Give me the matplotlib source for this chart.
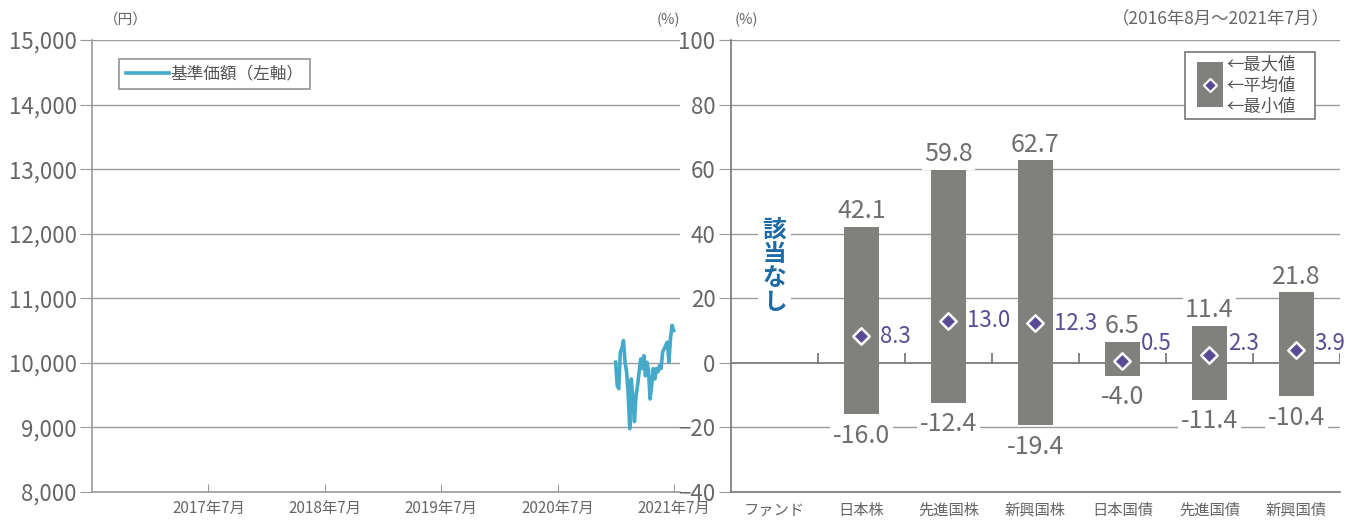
import numpy as np
import pandas as pd
import matplotlib
matplotlib.use('Agg')
import matplotlib.pyplot as plt
from matplotlib.patches import Rectangle

plt.rcParams['font.family'] = ['Noto Sans CJK JP', 'DejaVu Sans']

# ---- data ----
nav_values = [10010, 9650, 9600, 10170, 10220, 10345, 10010, 9860, 9520, 8980,
              9750, 9440, 9090, 9490, 9650, 9860, 10060, 9910, 10110, 9800,
              10010, 9860, 9440, 9650, 9910, 9750, 9910, 9860, 9960, 9910,
              10170, 10220, 10270, 10320, 10010, 10380, 10580, 10500]
nav_start = '2021-01-29'
nav_end = '2021-07-30'
year_ticks = ['2017-07-31', '2018-07-31', '2019-07-31', '2020-07-31', '2021-07-31']
year_labels = ['2017年7月', '2018年7月', '2019年7月', '2020年7月', '2021年7月']

categories = ['ファンド', '日本株', '先進国株', '新興国株', '日本国債', '先進国債', '新興国債']
max_vals = [None, 42.1, 59.8, 62.7, 6.5, 11.4, 21.8]
avg_vals = [None, 8.3, 13.0, 12.3, 0.5, 2.3, 3.9]
min_vals = [None, -16.0, -12.4, -19.4, -4.0, -11.4, -10.4]

gray_text = '#666666'
grid_c = '#9a9a9a'
bar_c = '#80817c'
purple = '#5b4a95'
line_c = '#45a9c9'

fig = plt.figure(figsize=(13.46, 5.2), dpi=100)

# ---- left chart ----
ax1 = fig.add_axes([0.0684, 0.054, 0.4368, 0.869])
dates = pd.date_range(nav_start, nav_end, periods=len(nav_values))
ax1.plot(dates, nav_values, color=line_c, lw=2.6, label='基準価額（左軸）', zorder=3)
ax1.set_ylim(8000, 15000)
ax1.set_xlim(pd.Timestamp('2016-07-31'), pd.Timestamp('2021-08-19'))
ax1.set_yticks(range(8000, 15001, 1000))
ax1.set_yticklabels([f'{v:,}' for v in range(8000, 15001, 1000)])
ax1.set_xticks(pd.to_datetime(year_ticks))
ax1.set_xticklabels(year_labels)
for y in range(9000, 15001, 1000):
    ax1.axhline(y, color=grid_c, lw=1, zorder=1)
for s in ['top', 'right']:
    ax1.spines[s].set_visible(False)
for s in ['left', 'bottom']:
    ax1.spines[s].set_color(grid_c)
    ax1.spines[s].set_linewidth(1.2)
ax1.tick_params(axis='y', direction='out', length=9, color=grid_c, labelsize=16,
                labelcolor=gray_text, pad=2)
ax1.tick_params(axis='x', direction='in', length=6, color=grid_c, labelsize=11,
                labelcolor=gray_text, pad=6)
leg = ax1.legend(loc='upper left', bbox_to_anchor=(0.046, 0.958), borderaxespad=0,
                 frameon=True, fancybox=False, edgecolor='#777777', fontsize=12,
                 handlelength=2.6, handletextpad=0.1, borderpad=0.4)
leg.get_frame().set_linewidth(1.2)
for t in leg.get_texts():
    t.set_color('#555555')

# ---- right chart ----
ax2 = fig.add_axes([0.543, 0.054, 0.4525, 0.869])
x = np.arange(len(categories))
ax2.set_xlim(-0.5, len(categories) - 0.5)
ax2.set_ylim(-40, 100)
for y in [20, 40, 60, 80, 100, -20]:
    ax2.axhline(y, color=grid_c, lw=1, zorder=1)
ax2.axhline(0, color='#6f6f6f', lw=1.2, zorder=1)
ax2.vlines(x + 0.5, 0, 3, color='#6f6f6f', lw=1.2, zorder=1)

for i in range(len(categories)):
    if max_vals[i] is None:
        continue
    ax2.bar(x[i], max_vals[i] - min_vals[i], bottom=min_vals[i], width=0.4,
            color=bar_c, zorder=2)
    ax2.scatter(x[i], avg_vals[i], marker='D', s=70, color=purple,
                edgecolors='white', linewidths=1.8, zorder=4)
    ax2.annotate(f'{max_vals[i]:.1f}', (x[i], max_vals[i]), xytext=(0, 2),
                 textcoords='offset points', ha='center', va='bottom',
                 fontsize=18, color='#6e6e6e', zorder=5,
                 bbox=dict(boxstyle='square,pad=0.1', fc='white', ec='none'))
    ax2.annotate(f'{min_vals[i]:.1f}', (x[i], min_vals[i]), xytext=(0, -6),
                 textcoords='offset points', ha='center', va='top',
                 fontsize=18, color='#6e6e6e', zorder=5,
                 bbox=dict(boxstyle='square,pad=0.1', fc='white', ec='none'))
    # small means are lifted so the label clears the zero line
    ax2.text(x[i] + 0.21, max(avg_vals[i], 6.0), f'{avg_vals[i]:.1f}', ha='left',
             va='center', fontsize=16, color=purple, zorder=5)

ax2.text(0, 30, '該\n当\nな\nし', ha='center', va='center', fontsize=17,
         fontweight='bold', color='#1b6aa5', linespacing=1.0, zorder=5,
         bbox=dict(boxstyle='square,pad=0.2', fc='white', ec='none'))

ax2.set_xticks(x)
ax2.set_xticklabels(categories)
ax2.set_yticks(range(-40, 101, 20))
for s in ['top', 'right']:
    ax2.spines[s].set_visible(False)
for s in ['left', 'bottom']:
    ax2.spines[s].set_color('#777777')
    ax2.spines[s].set_linewidth(1.2)
ax2.tick_params(axis='y', direction='out', length=9, color=grid_c, labelsize=16,
                labelcolor=gray_text, pad=2)
ax2.tick_params(axis='x', length=0, labelsize=11, labelcolor=gray_text, pad=7)

# legend box on right chart
ax2.add_patch(Rectangle((4.72, 75.4), 1.49, 21.0, fc='white', ec='#777777', lw=1.2, zorder=6))
ax2.add_patch(Rectangle((4.86, 79.1), 0.30, 14.2, fc=bar_c, ec='none', zorder=7))
ax2.scatter(5.01, 86.0, marker='D', s=45, color=purple, edgecolors='white',
            linewidths=1.5, zorder=8)
for lbl, yy in zip(['←最大値', '←平均値', '←最小値'], [92.6, 85.9, 79.2]):
    ax2.text(5.2, yy, lbl, ha='left', va='center', fontsize=12.5, color='#555555', zorder=8)

# header texts
fig.text(0.0775, 0.962, '（円）', fontsize=10.5, color=gray_text, ha='left', va='center')
fig.text(0.505, 0.962, '(%)', fontsize=10.5, color=gray_text, ha='right', va='center')
fig.text(0.546, 0.962, '(%)', fontsize=10.5, color=gray_text, ha='left', va='center')
fig.text(0.988, 0.962, '（2016年8月～2021年7月）', fontsize=12.5, color=gray_text,
         ha='right', va='center')

fig.savefig('out.png', dpi=100)
